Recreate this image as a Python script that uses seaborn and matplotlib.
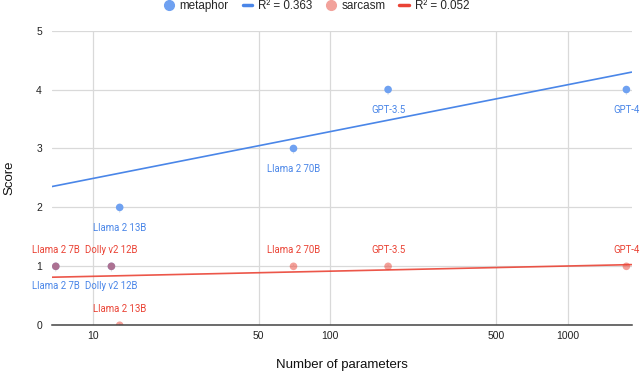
import matplotlib
matplotlib.use("Agg")
import matplotlib.pyplot as plt
from matplotlib.lines import Line2D
from matplotlib.ticker import FixedLocator, FixedFormatter, NullLocator
import seaborn as sns
import pandas as pd

# data
models = ["Llama 2 7B", "Dolly v2 12B", "Llama 2 13B", "Llama 2 70B", "GPT-3.5", "GPT-4"]
params = [7, 12, 13, 70, 175, 1760]
metaphor = [1, 1, 2, 3, 4, 4]
sarcasm = [1, 1, 0, 1, 1, 1]

# trendlines as drawn in the reference (value at the left and right edge)
trend_x = [6.73, 1850]
metaphor_trend = [2.353, 4.295]
sarcasm_trend = [0.815, 1.029]
metaphor_r2 = 0.363
sarcasm_r2 = 0.052

x_ticks = [10, 50, 100, 500, 1000]
y_ticks = [0, 1, 2, 3, 4, 5]

blue_pt = "#6fa1f1"
blue_line = "#4a86e8"
red_pt = "#ea4335"
red_line = "#ea4335"

sns.set_theme(style="whitegrid")
plt.rcParams['font.family'] = ['Liberation Sans', 'DejaVu Sans']

fig = plt.figure(figsize=(6.4, 3.73), dpi=100)
ax = fig.add_axes([0.0808, 0.128, 0.906, 0.79])

df_m = pd.DataFrame({"params": params, "score": metaphor})
df_s = pd.DataFrame({"params": params, "score": sarcasm})
tr_m = pd.DataFrame({"x": trend_x, "y": metaphor_trend})
tr_s = pd.DataFrame({"x": trend_x, "y": sarcasm_trend})

ax.set_xscale("log")

# leader lines + point labels
lbl_font = ['Roboto', 'DejaVu Sans']
for name, x, y in zip(models, params, metaphor):
    ax.annotate(name, (x, y), xytext=(0, -14.5), textcoords="offset points",
                ha="center", va="center", fontsize=6.9, color=blue_line, family=lbl_font,
                arrowprops=dict(arrowstyle="-", color="#e3e3e3", lw=0.8,
                                shrinkA=5, shrinkB=0), zorder=3)
for name, x, y in zip(models, params, sarcasm):
    ax.annotate(name, (x, y), xytext=(0, 12), textcoords="offset points",
                ha="center", va="center", fontsize=6.9, color=red_line, family=lbl_font,
                arrowprops=dict(arrowstyle="-", color="#e3e3e3", lw=0.8,
                                shrinkA=5, shrinkB=0), zorder=3)

sns.lineplot(data=tr_m, x="x", y="y", ax=ax, color=blue_line, lw=1.2, zorder=4)
sns.lineplot(data=tr_s, x="x", y="y", ax=ax, color=red_line, lw=1.2, alpha=0.9, zorder=4)

sns.scatterplot(data=df_m, x="params", y="score", ax=ax, color=blue_pt, s=30,
                edgecolor="none", zorder=5)
sns.scatterplot(data=df_s, x="params", y="score", ax=ax, color=red_pt, s=30,
                alpha=0.5, edgecolor="none", zorder=6)

ax.set_xlim(trend_x[0], trend_x[1])
ax.set_ylim(0, 5)
ax.xaxis.set_major_locator(FixedLocator(x_ticks))
ax.xaxis.set_major_formatter(FixedFormatter([str(t) for t in x_ticks]))
ax.xaxis.set_minor_locator(NullLocator())
ax.set_yticks(y_ticks)

ax.grid(True, color="#d9d9d9", lw=0.9)
for side in ["top", "right", "left"]:
    ax.spines[side].set_visible(False)
ax.spines["bottom"].set_color("#444444")
ax.spines["bottom"].set_linewidth(1.1)
ax.spines["bottom"].set_zorder(7)
ax.tick_params(axis="both", length=0, labelsize=7.5, colors="#222222")
ax.tick_params(axis="y", pad=7)
ax.tick_params(axis="x", pad=4)

ax.set_xlabel("Number of parameters", fontsize=9.5, color="#111111", labelpad=13)
ax.set_ylabel("Score", fontsize=9.5, color="#111111", labelpad=15)

handles = [
    Line2D([], [], marker="o", ls="none", color=blue_pt, markersize=7),
    Line2D([], [], color=blue_line, lw=2.5),
    Line2D([], [], marker="o", ls="none", color="#f2a29b", markersize=7),
    Line2D([], [], color=red_line, lw=2.5),
]
labels = ["metaphor", f"R\u00b2 = {metaphor_r2}", "sarcasm", f"R\u00b2 = {sarcasm_r2}"]
fig.legend(handles, labels, loc="center", bbox_to_anchor=(0.495, 0.985), ncol=4,
           frameon=False, fontsize=8.4, handlelength=0.8, handletextpad=0.5,
           columnspacing=1.2, borderpad=0)

fig.savefig("out.png", dpi=100)
